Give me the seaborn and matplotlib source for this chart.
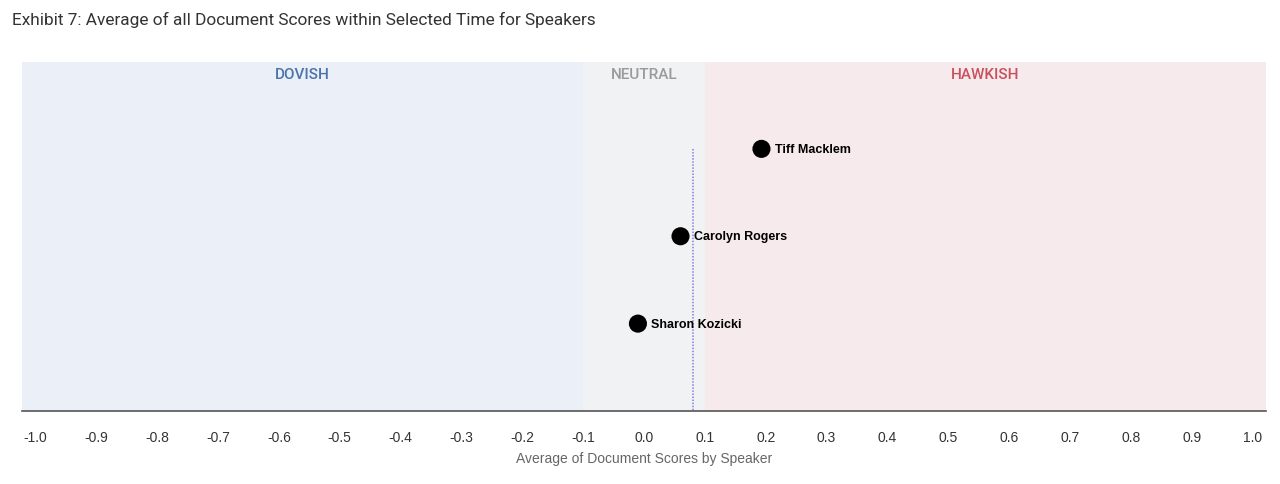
import matplotlib
matplotlib.use("Agg")
import matplotlib.pyplot as plt
import seaborn as sns
import numpy as np
import pandas as pd

speakers = ["Tiff Macklem", "Carolyn Rogers", "Sharon Kozicki"]
scores = [0.193, 0.060, -0.010]
zones = ["DOVISH", "NEUTRAL", "HAWKISH"]
zone_bounds = [(-1.022, -0.1), (-0.1, 0.1), (0.1, 1.022)]
zone_fill = ["#ebeff7", "#f1f2f4", "#f7eaed"]
zone_text = ["#4b74aa", "#9a9a9a", "#c9505f"]
ticks = [round(v, 1) for v in np.arange(-1.0, 1.01, 0.1)]
tick_labels = [f"{abs(t):.1f}" if abs(t) < 1e-9 else f"{t:.1f}" for t in ticks]

df = pd.DataFrame({"speaker": speakers, "score": scores})

sns.set_theme(style="white")
plt.rcParams["font.family"] = ["Liberation Sans", "DejaVu Sans"]

fig = plt.figure(figsize=(12.8, 4.85), dpi=100)
ax = fig.add_axes([22/1280, 1-412/485, (1266-22)/1280, (412-62.5)/485])

for (lo, hi), fc, tc, name in zip(zone_bounds, zone_fill, zone_text, zones):
    ax.axvspan(lo, hi, color=fc, zorder=0, lw=0)
    ax.text((lo + hi) / 2, -0.86, name, ha="center", va="center",
            color=tc, fontsize=11, family="Roboto", fontweight="medium")

sns.scatterplot(data=df, x="score", y="speaker", s=170, color="black",
                edgecolor="none", ax=ax, zorder=3, legend=False)

mean_score = float(np.mean(scores))
ax.vlines(mean_score, 0, 3, colors="#7f7fe6", linestyles=(0, (1, 1)), lw=1.1, zorder=2)

for sp, sc in zip(speakers, scores):
    ax.annotate(sp, (sc, sp), xytext=(9.5, 0), textcoords="offset points",
                ha="left", va="center", fontsize=9, fontweight="bold", color="black", zorder=4)

ax.set_xlim(-1.022, 1.022)
ax.set_ylim(3, -1)
ax.set_xticks(ticks)
ax.set_xticklabels(tick_labels)
ax.set_yticks([])
ax.set_ylabel("")
ax.set_xlabel("Average of Document Scores by Speaker", fontsize=10, color="#666666", labelpad=5)
ax.tick_params(axis="x", length=0, pad=14, labelsize=10, labelcolor="#333333")
for s in ["top", "left", "right"]:
    ax.spines[s].set_visible(False)
ax.spines["bottom"].set_color("#555555")
ax.spines["bottom"].set_linewidth(1.2)

fig.text(12/1280, 1-20/485, "Exhibit 7: Average of all Document Scores within Selected Time for Speakers",
         ha="left", va="center", fontsize=12.4, color="#333333", family="Roboto")

fig.savefig("out.png", dpi=100)
